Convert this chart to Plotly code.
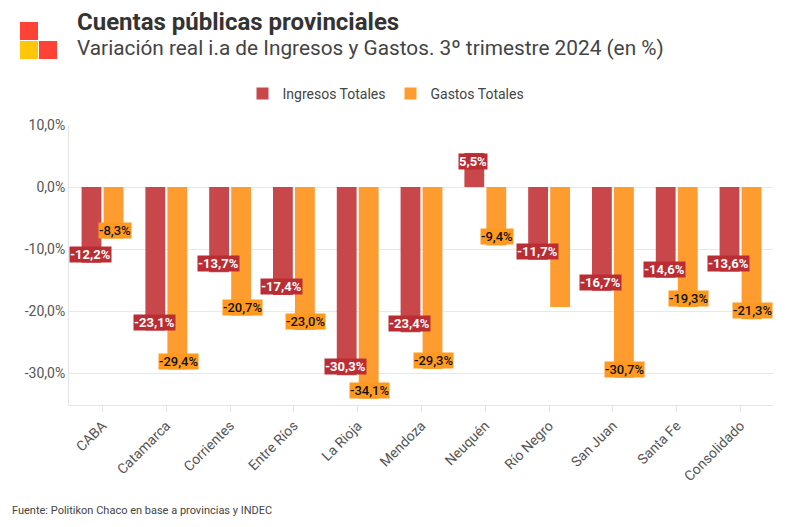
import plotly.graph_objects as go

# datos
provincias = ["CABA", "Catamarca", "Corrientes", "Entre Ríos", "La Rioja", "Mendoza",
              "Neuquén", "Río Negro", "San Juan", "Santa Fe", "Consolidado"]
ingresos = [-12.2, -23.1, -13.7, -17.4, -30.3, -23.4, 5.5, -11.7, -16.7, -14.6, -13.6]
gastos = [-8.3, -29.4, -20.7, -23.0, -34.1, -29.3, -9.4, -19.3, -30.7, -19.3, -21.3]
# Río Negro gastos no tiene etiqueta en el original
gastos_label = [True, True, True, True, True, True, True, False, True, True, True]
y_ticks = [10, 0, -10, -20, -30]

ROJO = "#C8474B"
NARANJA = "#FE9C30"
FONT = "Roboto"

# la pagina agrega 8px de margen, se descuenta en todo
W, H = 785, 519
L, R, T, B = 61, 20, 117, 122


def fmt(v):
    return f"{v:.1f}".replace(".", ",") + "%"


fig = go.Figure()
fig.add_trace(go.Bar(x=provincias, y=ingresos, name="Ingresos Totales",
                     marker_color=ROJO, marker_line_width=0))
fig.add_trace(go.Bar(x=provincias, y=gastos, name="Gastos Totales",
                     marker_color=NARANJA, marker_line_width=0))

# etiquetas de valor
for p, v in zip(provincias, ingresos):
    fig.add_annotation(
        x=p, y=v, text=fmt(v), showarrow=False, xshift=-12,
        yanchor="bottom" if v < 0 else "top",
        font=dict(family=FONT, size=13, color="white", weight="bold"),
        bgcolor="#B92D33", borderpad=0,
    )
for p, v, show in zip(provincias, gastos, gastos_label):
    if not show:
        continue
    fig.add_annotation(
        x=p, y=v, text=fmt(v), showarrow=False, xshift=12,
        yanchor="bottom" if v < 0 else "top",
        font=dict(family=FONT, size=13, color="#111111", weight=500),
        bgcolor="#FF9A1F", borderpad=0,
    )

# titulo y subtitulo
tx = (67 - L) / (W - L - R)
fig.add_annotation(xref="paper", yref="paper", x=tx, y=1,
                   yshift=T - 14, xanchor="left", yanchor="middle", showarrow=False,
                   text="<b>Cuentas públicas provinciales</b>",
                   font=dict(family=FONT, size=24, color="#333333"))
fig.add_annotation(xref="paper", yref="paper", x=tx, y=1,
                   yshift=T - 40, xanchor="left", yanchor="middle", showarrow=False,
                   text="Variación real i.a de Ingresos y Gastos. 3º trimestre 2024 (en %)",
                   font=dict(family=FONT, size=20.8, color="#444444"))
fig.add_annotation(xref="paper", yref="paper", x=(2 - L) / (W - L - R), y=0,
                   yshift=-(502 - (H - B)), xanchor="left", yanchor="middle", showarrow=False,
                   text="Fuente: Politikon Chaco en base a provincias y INDEC",
                   font=dict(family=FONT, size=11, color="#444444"))

# logo
for x0, y0, col in [(12, 14, "#FF4136"), (12, 33, "#FFC60B"), (31, 33, "#FF4136")]:
    fig.add_shape(type="rect", xref="paper", yref="paper",
                  xsizemode="pixel", ysizemode="pixel", xanchor=0, yanchor=1,
                  x0=x0 - L, x1=x0 - L + 18, y0=T - y0, y1=T - y0 - 18,
                  fillcolor=col, line_width=0)

fig.update_layout(
    width=W, height=H,
    margin=dict(l=L, r=R, t=T, b=B, autoexpand=False),
    paper_bgcolor="white", plot_bgcolor="white",
    barmode="group", bargap=0.31, bargroupgap=0.1,
    font=dict(family=FONT, color="#555555"),
    legend=dict(orientation="h", xref="container", yref="container",
                x=378 / W, y=1 - 86 / H, xanchor="center", yanchor="middle",
                font=dict(size=14, color="#444444"), itemwidth=30),
    showlegend=True,
)
fig.update_yaxes(range=[-35.1, 10], tickvals=y_ticks, ticktext=[fmt(v) for v in y_ticks],
                 tickfont=dict(size=14, color="#555555"), automargin=False,
                 showgrid=True, gridcolor="#E8E8E8", zeroline=False,
                 showline=True, linecolor="#E5E5E5", linewidth=1)
fig.update_xaxes(tickangle=-45, tickfont=dict(size=14, color="#555555"), automargin=False,
                 showline=True, linecolor="#E5E5E5", linewidth=1,
                 ticks="outside", tickcolor="#E5E5E5", ticklen=6)

fig.write_html("out.html")
